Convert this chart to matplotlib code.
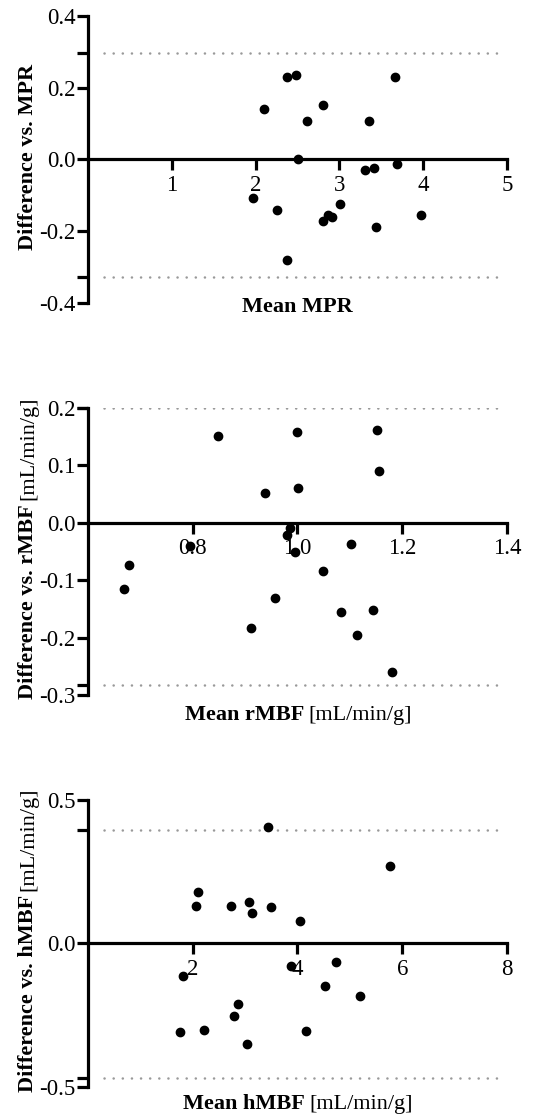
import matplotlib
matplotlib.use("Agg")
import matplotlib.pyplot as plt

plt.rcParams["font.family"] = "Liberation Serif"
plt.rcParams["axes.unicode_minus"] = False

# MPR
mpr_mean = [2.37, 2.48, 3.67, 2.10, 2.80, 2.61, 3.35, 2.51, 3.31, 3.41,
            3.69, 1.97, 2.25, 3.01, 2.80, 2.86, 2.91, 3.44, 3.98, 2.37]
mpr_diff = [0.229, 0.236, 0.231, 0.140, 0.153, 0.108, 0.108, 0.002, -0.030, -0.025,
            -0.013, -0.107, -0.142, -0.125, -0.171, -0.155, -0.161, -0.187, -0.155, -0.279]
mpr_loa = [0.297, -0.329]

# rMBF
rmbf_mean = [0.849, 1.000, 1.151, 1.155, 0.938, 1.001, 0.986, 0.980, 0.996, 0.794,
             1.102, 0.679, 0.668, 1.049, 0.957, 1.083, 1.145, 0.911, 1.113, 1.180]
rmbf_diff = [0.150, 0.157, 0.161, 0.089, 0.051, 0.060, -0.010, -0.022, -0.052, -0.040,
             -0.037, -0.073, -0.115, -0.084, -0.131, -0.155, -0.152, -0.183, -0.195, -0.260]
rmbf_loa = [0.199, -0.283]

# hMBF
hmbf_mean = [3.43, 5.77, 2.10, 2.06, 2.73, 3.07, 3.14, 3.50, 4.04, 3.87,
             4.73, 1.81, 4.53, 5.20, 2.86, 2.78, 1.76, 2.22, 4.16, 3.03]
hmbf_diff = [0.405, 0.270, 0.179, 0.129, 0.129, 0.144, 0.106, 0.127, 0.079, -0.078,
             -0.064, -0.115, -0.149, -0.183, -0.213, -0.253, -0.310, -0.303, -0.305, -0.352]
hmbf_loa = [0.395, -0.469]

W, H = 541, 1120
fig = plt.figure(figsize=(W / 100, H / 100), dpi=100)
renderer = fig.canvas.get_renderer()


def mixed_label(cx, cy, parts, vertical=False, size=16, gap=4):
    """Bold/regular runs on one baseline, centred on (cx, cy) in pixels;
    for vertical labels cx is the baseline, for horizontal ones cy is."""
    texts, lens = [], []
    for s, weight in parts:
        t = fig.text(0, 0, s, fontsize=size, fontweight=weight,
                     rotation=90 if vertical else 0, rotation_mode="anchor",
                     ha="left", va="baseline")
        bb = t.get_window_extent(renderer)
        texts.append(t)
        lens.append(bb.height if vertical else bb.width)
    total = sum(lens) + gap * (len(parts) - 1)
    pos = -total / 2
    for t, n in zip(texts, lens):
        if vertical:
            t.set_position((cx / W, (cy + pos) / H))
        else:
            t.set_position(((cx + pos) / W, cy / H))
        pos += n + gap


panels = [
    dict(x=mpr_mean, y=mpr_diff, loa=mpr_loa, xlim=(0, 5), ylim=(-0.4, 0.4),
         xticks=[1, 2, 3, 4, 5], xticklabels=["1", "2", "3", "4", "5"],
         yticks=[0.4, 0.2, 0.0, -0.2, -0.4],
         ylabel=[("Difference vs. MPR", "bold")], ylab_xy=(33, 963),
         xlabel=[("Mean MPR", "bold")], xlab_xy=(297, 808),
         pos=[0.1627, 0.7295, 0.7743, 0.2562]),
    dict(x=rmbf_mean, y=rmbf_diff, loa=rmbf_loa, xlim=(0.6, 1.4), ylim=(-0.3, 0.2),
         xticks=[0.8, 1.0, 1.2, 1.4], xticklabels=["0.8", "1.0", "1.2", "1.4"],
         yticks=[0.2, 0.1, 0.0, -0.1, -0.2, -0.3],
         ylabel=[("Difference vs. rMBF", "bold"), ("[mL/min/g]", "normal")],
         ylab_xy=(33, 572),
         xlabel=[("Mean rMBF", "bold"), ("[mL/min/g]", "normal")],
         xlab_xy=(298, 400),
         pos=[0.1627, 0.3795, 0.7743, 0.2565]),
    dict(x=hmbf_mean, y=hmbf_diff, loa=hmbf_loa, xlim=(0, 8), ylim=(-0.5, 0.5),
         xticks=[2, 4, 6, 8], xticklabels=["2", "4", "6", "8"],
         yticks=[0.5, 0.0, -0.5],
         ylabel=[("Difference vs. hMBF", "bold"), ("[mL/min/g]", "normal")],
         ylab_xy=(33, 180),
         xlabel=[("Mean hMBF", "bold"), ("[mL/min/g]", "normal")],
         xlab_xy=(298, 11),
         pos=[0.1627, 0.0298, 0.7743, 0.2559]),
]

for p in panels:
    ax = fig.add_axes(p["pos"])
    x0, x1 = p["xlim"]
    ax.set_xlim(x0, x1)
    ax.set_ylim(*p["ylim"])

    # limits of agreement
    for v in p["loa"]:
        ax.plot([x0 + 0.037 * (x1 - x0), x0 + 0.98 * (x1 - x0)], [v, v],
                color="#999999", lw=1.8, linestyle=(0, (0.05, 3.6)),
                dash_capstyle="round", zorder=1)

    ax.plot(p["x"], p["y"], "o", color="black", ms=6, zorder=3, clip_on=False)

    for s in ["top", "right"]:
        ax.spines[s].set_visible(False)
    ax.spines["bottom"].set_position(("data", 0))
    ax.spines["left"].set_linewidth(2.3)
    ax.spines["bottom"].set_linewidth(2.3)

    ax.set_xticks(p["xticks"])
    ax.set_xticklabels(p["xticklabels"])
    ax.set_yticks(list(p["yticks"]) + p["loa"])
    ax.set_yticklabels(["{:.1f}".format(v) for v in p["yticks"]] + ["", ""])
    ax.tick_params(axis="both", direction="out", length=8, width=2.3,
                   labelsize=16.5, colors="black")
    ax.tick_params(axis="x", pad=3)
    ax.tick_params(axis="y", pad=1)

    mixed_label(*p["ylab_xy"], p["ylabel"], vertical=True)
    mixed_label(*p["xlab_xy"], p["xlabel"])

fig.savefig("out.png", dpi=100)
